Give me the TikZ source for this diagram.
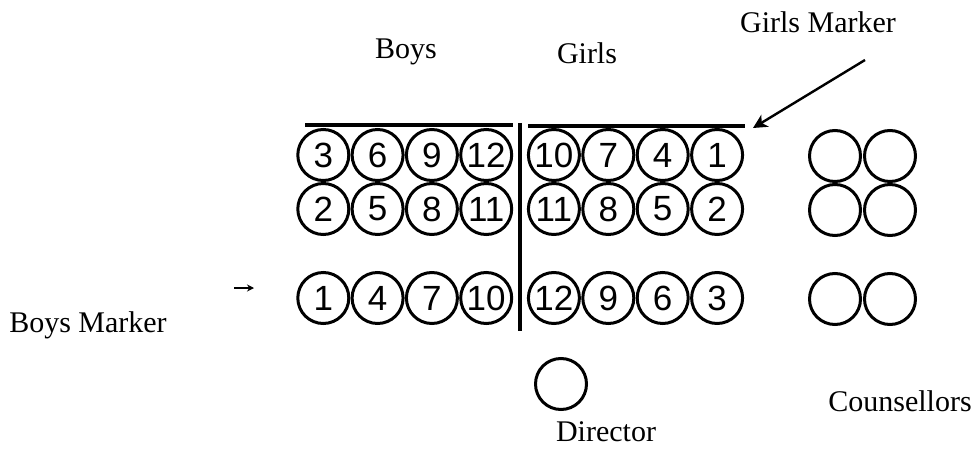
\documentclass[tikz,border=0pt]{standalone}
\usepackage{fontspec}
\setmainfont{Liberation Serif}
\newfontfamily\digitfont{Liberation Sans}
\usetikzlibrary{arrows.meta}
\begin{document}
\begin{tikzpicture}[x=1pt,y=-1pt,
  seat/.style={circle,draw,line width=3pt,minimum size=51pt,inner sep=0pt,
    font=\digitfont\fontsize{35}{35}\selectfont},
  lbl/.style={font=\fontsize{30}{30}\selectfont,inner sep=0pt},
  rule/.style={line width=3.2pt}]
\useasboundingbox (0,0) rectangle (973,449);
% Boys rows
\foreach \n [count=\i] in {3,6,9,12} {
  \pgfmathsetmacro{\xx}{269+54.3*\i}
  \node[seat] (b1\i) at (\xx,155) {\n};}
\foreach \n [count=\i] in {2,5,8,11} {
  \pgfmathsetmacro{\xx}{269+54.3*\i}
  \node[seat] (b2\i) at (\xx,209) {\n};}
\foreach \n [count=\i] in {1,4,7,10} {
  \pgfmathsetmacro{\xx}{269+54.3*\i}
  \node[seat] (b3\i) at (\xx,298) {\n};}
% Girls rows
\foreach \n [count=\i] in {10,7,4,1} {
  \pgfmathsetmacro{\xx}{499.5+54.4*\i}
  \node[seat] (g1\i) at (\xx,155) {\n};}
\foreach \n [count=\i] in {11,8,5,2} {
  \pgfmathsetmacro{\xx}{499.5+54.4*\i}
  \node[seat] (g2\i) at (\xx,209) {\n};}
\foreach \n [count=\i] in {12,9,6,3} {
  \pgfmathsetmacro{\xx}{499.5+54.4*\i}
  \node[seat] (g3\i) at (\xx,298) {\n};}
% Counsellors
\foreach \r/\yy in {1/156,2/210,3/299} {
  \node[seat] (c\r a) at (835,\yy) {};
  \node[seat] (c\r b) at (890,\yy) {};}
% Director
\node[seat] (dir) at (561,384) {};
% Dividers
\coordinate (vt) at (520,123);
\coordinate (vb) at (520,331);
\draw[rule] (vt) -- (vb);
\coordinate (bl) at (305,125);
\coordinate (br) at (513,125);
\draw[rule] (bl) -- (br);
\coordinate (gl) at (528,126);
\coordinate (gr) at (745,126);
\draw[rule] (gl) -- (gr);
% Labels
\node[lbl] (boys) at (406,52) {Boys};
\node[lbl] (girls) at (587,53) {Girls};
\node[lbl] (gm) at (818,22) {Girls Marker};
\node[lbl] (bm) at (88,325) {Boys Marker};
\node[lbl] (dirl) at (606,432) {Director};
\node[lbl] (coun) at (900,401) {Counsellors};
% Markers
\coordinate (gms) at (865,60);
\coordinate (gme) at (753,128);
\draw[line width=2.4pt,-{Stealth[length=14pt,width=14pt,inset=4pt]}] (gms) -- (gme);
\coordinate (bms) at (234,288);
\coordinate (bme) at (254,288);
\draw[line width=1.8pt,-{Stealth[length=7pt,width=7pt]}] (bms) -- (bme);
\end{tikzpicture}
\end{document}
